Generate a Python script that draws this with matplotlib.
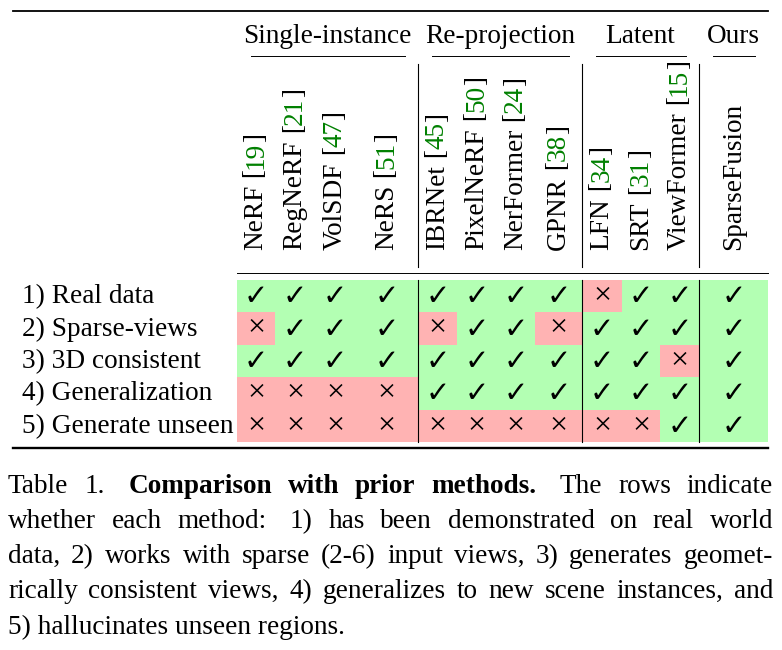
import numpy as np
import matplotlib.pyplot as plt
from matplotlib.colors import ListedColormap

# ============================================================
# DATA
# ============================================================

groups = ["Single-instance", "Re-projection", "Latent", "Ours"]
group_sizes = [4, 4, 3, 1]

methods = ["NeRF", "RegNeRF", "VolSDF", "NeRS",
           "IBRNet", "PixelNeRF", "NerFormer", "GPNR",
           "LFN", "SRT", "ViewFormer",
           "SparseFusion"]
cites = ["19", "21", "47", "51", "45", "50", "24", "38", "34", "31", "15", None]

rows = ["1) Real data", "2) Sparse-views", "3) 3D consistent",
        "4) Generalization", "5) Generate unseen"]

# 1 = check, 0 = cross
support = np.array([
    [1, 1, 1, 1, 1, 1, 1, 1, 0, 1, 1, 1],
    [0, 1, 1, 1, 0, 1, 1, 0, 1, 1, 1, 1],
    [1, 1, 1, 1, 1, 1, 1, 1, 1, 1, 0, 1],
    [0, 0, 0, 0, 1, 1, 1, 1, 1, 1, 1, 1],
    [0, 0, 0, 0, 0, 0, 0, 0, 0, 0, 1, 1],
])

caption_lines = [
    [("Table", 0), ("1.", 0), ("Comparison", 1), ("with", 1), ("prior", 1),
     ("methods.", 1), ("The", 0), ("rows", 0), ("indicate", 0)],
    [("whether", 0), ("each", 0), ("method:", 0), ("1)", 0), ("has", 0),
     ("been", 0), ("demonstrated", 0), ("on", 0), ("real", 0), ("world", 0)],
    [("data,", 0), ("2)", 0), ("works", 0), ("with", 0), ("sparse", 0),
     ("(2-6)", 0), ("input", 0), ("views,", 0), ("3)", 0), ("generates", 0),
     ("geomet-", 0)],
    [("rically", 0), ("consistent", 0), ("views,", 0), ("4)", 0),
     ("generalizes", 0), ("to", 0), ("new", 0), ("scene", 0),
     ("instances,", 0), ("and", 0)],
]
caption_last = "5) hallucinates unseen regions."

# ============================================================
# LAYOUT (pixel coordinates)
# ============================================================

W, H = 782, 650
SERIF = "Liberation Serif"
FS = 19.6
GREEN = "#b3ffb3"
RED = "#ffb3b3"
CITE = "#008000"

col_edges = np.array([237, 275, 315, 355, 418, 457, 496, 535, 582, 622, 660, 699, 768])
row_edges = np.array([280, 312.4, 344.8, 377.2, 409.6, 442])
col_mid = (col_edges[:-1] + col_edges[1:]) / 2
row_mid = (row_edges[:-1] + row_edges[1:]) / 2

fig = plt.figure(figsize=(W / 100, H / 100), dpi=100)
ax = fig.add_axes([0, 0, 1, 1])
ax.set_xlim(0, W)
ax.set_ylim(H, 0)
ax.axis("off")

# cell backgrounds
ax.pcolormesh(col_edges, row_edges, support, cmap=ListedColormap([RED, GREEN]),
              vmin=0, vmax=1, shading="flat", edgecolors="none", antialiased=False)

for i in range(len(rows)):
    for j in range(len(methods)):
        if support[i, j]:
            ax.text(col_mid[j], row_mid[i] + 1, "\u2713", fontsize=21, fontweight="bold",
                    family="DejaVu Sans", ha="center", va="center")
        else:
            ax.text(col_mid[j], row_mid[i] - 0.5, "\u00d7", fontsize=23, family=SERIF,
                    ha="center", va="center")

for i, lab in enumerate(rows):
    ax.text(22, row_mid[i] + 7, lab, fontsize=FS, family=SERIF, ha="left", va="baseline")

# rules
ax.plot([13, 768], [11, 11], color="black", lw=1.3)
ax.plot([col_edges[0], 768], [272.5, 272.5], color="black", lw=0.7)
ax.plot([13, 768], [448, 448], color="black", lw=1.7)

# group headers, cmidrules and vertical separators
bounds = np.concatenate([[0], np.cumsum(group_sizes)])
for g, name in enumerate(groups):
    x0, x1 = col_edges[bounds[g]], col_edges[bounds[g + 1]]
    ax.text((x0 + x1) / 2, 43, name, fontsize=FS, family=SERIF, ha="center", va="baseline")
    ax.plot([x0 + 13.5, x1 - 13.5], [56, 56], color="black", lw=0.7)
    if g > 0:
        ax.plot([x0, x0], [64, 267], color="black", lw=0.8)
        ax.plot([x0, x0], [row_edges[0], row_edges[-1]], color="black", lw=0.8)

# rotated method names with coloured citation numbers
for j, m in enumerate(methods):
    pieces = [(m, "black")]
    if cites[j]:
        pieces += [(" [", "black"), (cites[j], CITE), ("]", "black")]
    t = ax.text(col_mid[j], 250, pieces[0][0], fontsize=FS, family=SERIF, color=pieces[0][1],
                rotation=90, ha="center", va="bottom")
    for s, c in pieces[1:]:
        t = ax.annotate(s, xy=(0, 1), xycoords=t, fontsize=FS, family=SERIF, color=c,
                        rotation=90, ha="left", va="bottom")

# caption, justified
renderer = fig.canvas.get_renderer()
left, right = 8, 773
baselines = [493, 528, 563, 598, 634]
for li, words in enumerate(caption_lines):
    arts = [ax.text(0, baselines[li], w, fontsize=FS, family=SERIF,
                    fontweight="bold" if b else "normal", ha="left", va="baseline")
            for w, b in words]
    widths = [a.get_window_extent(renderer).width for a in arts]
    weights = [1.5 if w.endswith((".", ":")) else 1.0 for w, _ in words[:-1]]
    unit = (right - left - sum(widths)) / sum(weights)
    x = left
    for k, a in enumerate(arts):
        a.set_x(x)
        if k < len(weights):
            x += widths[k] + unit * weights[k]
ax.text(left, baselines[4], caption_last, fontsize=FS, family=SERIF, ha="left", va="baseline")

fig.savefig("out.png", dpi=100)
